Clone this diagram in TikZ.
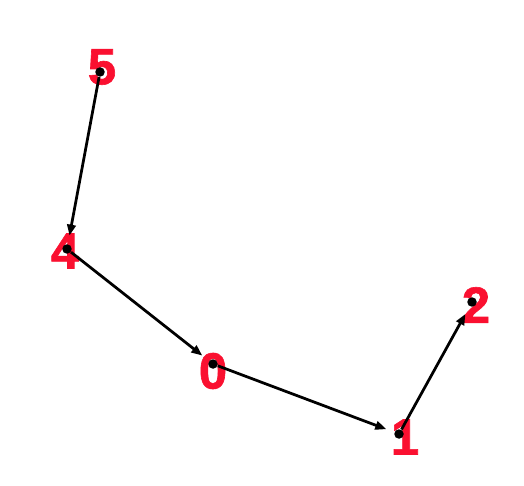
\documentclass[tikz,border=0pt]{standalone}
\usepackage{fontspec}
\usepackage{tikz}
\usetikzlibrary{arrows.meta}
\setmainfont{Liberation Sans}
\newfontfamily\lblfont[FakeBold=1.2]{Liberation Sans Bold}
\definecolor{labelred}{RGB}{250,16,48}

\begin{document}
\begin{tikzpicture}[x=0.02cm,y=-0.02cm,
  vertex/.style={circle,fill=black,inner sep=0pt,minimum size=0.19cm},
  lbl/.style={text=labelred,font=\fontsize{29}{34}\lblfont,inner sep=0pt},
  edge/.style={line width=0.055cm,-{Triangle[length=0.22cm,width=0.17cm]},shorten >=0.17cm}]
\useasboundingbox (0,0) rectangle (524,486);
\node[lbl] (l5) at (102,67)  {5};
\node[lbl] (l4) at (65,251)  {4};
\node[lbl] (l0) at (213,371) {0};
\node[lbl] (l1) at (405,437) {1};
\node[lbl] (l2) at (476,305) {2};
\node[vertex] (v5) at (100,72)  {};
\node[vertex] (v4) at (67,249)  {};
\node[vertex] (v0) at (213,364) {};
\node[vertex] (v1) at (399,434) {};
\node[vertex] (v2) at (472,302) {};
\draw[edge] (v5) -- (v4);
\draw[edge] (v4) -- (v0);
\draw[edge] (v0) -- (v1);
\draw[edge] (v1) -- (v2);
\end{tikzpicture}
\end{document}
